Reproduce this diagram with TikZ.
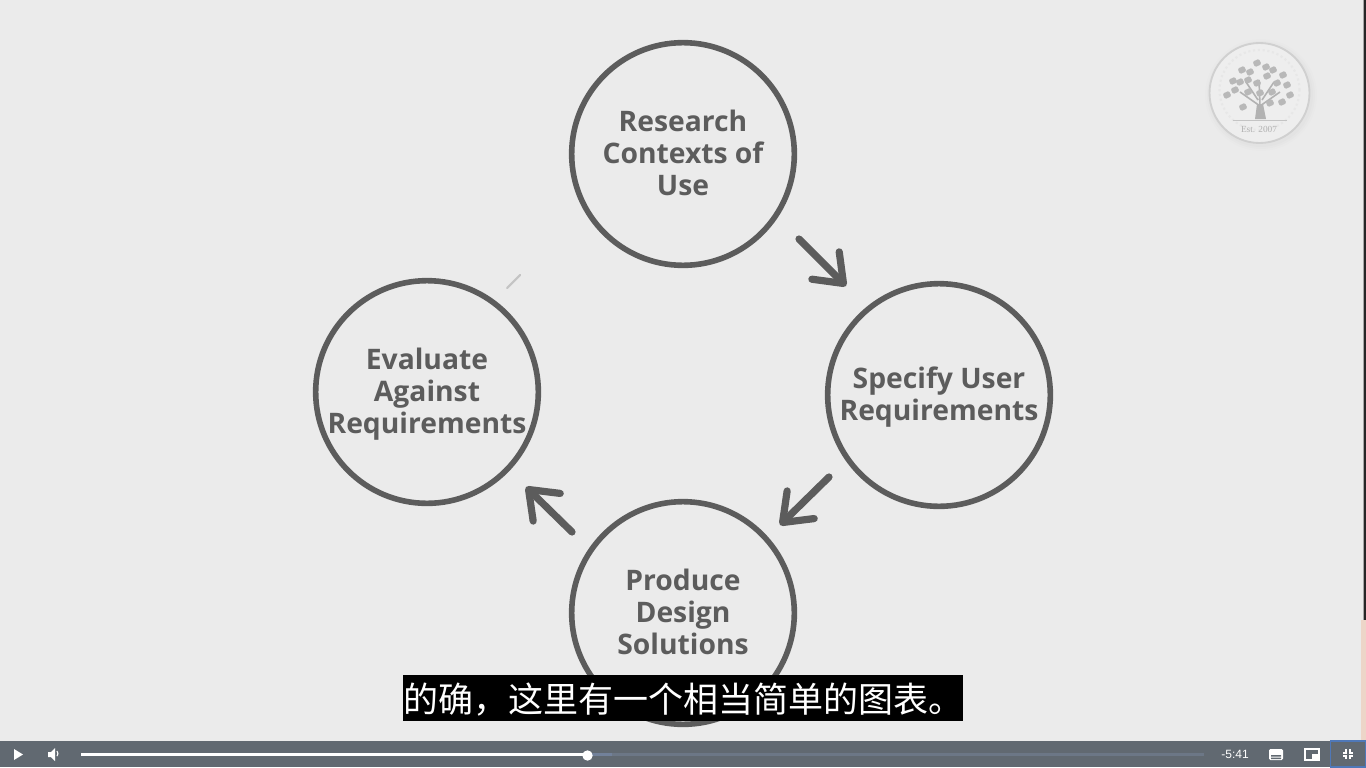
\documentclass[tikz,border=0pt]{standalone}
\usepackage{fontspec}
\usetikzlibrary{arrows.meta}
\setmainfont{Open Sans}
\newfontfamily\cjkfont{Noto Sans CJK SC}
\newfontfamily\uifont{Liberation Sans}
\newfontfamily\logofont{Liberation Serif}
\definecolor{paper}{HTML}{EBEBEB}
\definecolor{ink}{HTML}{5C5C5C}
\definecolor{barc}{HTML}{616971}
\definecolor{logoc}{HTML}{C4C4C4}
\definecolor{railc}{HTML}{6C7786}
\definecolor{bufc}{HTML}{72819A}
\definecolor{focusc}{HTML}{4F78B8}
\definecolor{peach}{HTML}{EDD5C8}
\tikzset{
  x=0.75pt,y=-0.75pt,
  stage/.style={circle,draw=ink,line width=4.2pt,minimum size=167pt,inner sep=0pt,align=center,text=ink,text depth=2.5pt,font=\fontsize{21.2}{24}\selectfont\bfseries},
  flow/.style={draw=ink,line width=5.4pt,line cap=round,line join=round,-{Straight Barb[round,length=19pt,width=29pt,line width=5.4pt]}},
}
\begin{document}
\begin{tikzpicture}
\useasboundingbox (0,0) rectangle (1366,767);
\fill[paper] (0,0) rectangle (1366,767);
\fill[gray!70] (1362.5,0) rectangle (1366,620);
\fill[black!85] (1364,0) rectangle (1366,620);
\fill[peach] (1361,620) rectangle (1366,741);
\node[stage] (research) at (683,154) {Research\\Contexts of\\Use};
\node[stage] (specify) at (939,395) {Specify User\\Requirements};
\node[stage] (produce) at (683,613) {Produce\\Design\\Solutions};
\node[stage] (evaluate) at (427,392) {Evaluate\\Against\\Requirements};
\coordinate (a1s) at (799,239);\coordinate (a1t) at (846,286);
\coordinate (a2s) at (829,477);\coordinate (a2t) at (780,525);
\coordinate (a3s) at (572,532);\coordinate (a3t) at (526,487);
\draw[flow] (a1s) -- (a1t);
\draw[flow] (a2s) -- (a2t);
\draw[flow] (a3s) -- (a3t);
\coordinate (m1) at (507,288);\coordinate (m2) at (520,275);
\draw[logoc,line width=1.6pt,line cap=round] (m1) -- (m2);
% logo
\foreach \r/\o in {56/.008,54/.01,52/.012}
  \fill[black,opacity=\o] (1261,95) circle (\r);
\node[circle,fill=paper!85!white,draw=logoc!80,line width=1.4pt,minimum size=75pt,inner sep=0pt] (logo) at (1259.5,93) {};
\node[circle,draw=logoc!40,line width=1.6pt,dotted,minimum size=60pt,inner sep=0pt] (logoin) at (1259.5,90) {};
\node[text=logoc!130,font=\logofont\fontsize{7}{8}\selectfont] (est) at (1259,129) {Est. 2007};
\fill[logoc!130] (1255,119) -- (1257,104) -- (1263,104) -- (1266,119) -- cycle;
\draw[logoc,line width=0.7pt] (1233,120) -- (1287,120);
\draw[logoc!130,line width=1.2pt] (1260,106) -- (1240,92) (1260,106) -- (1280,92) (1260,106) -- (1259,80) (1258,100) -- (1246,82) (1262,100) -- (1274,82);
\foreach \px/\py in {1257/63,1242/70,1250/72,1266/67,1273/70,1283/75,1233/81,1240/82,1248/80,1257/83,1267/76,1277/83,1287/85,1227/95,1235/90,1248/92,1260/93,1272/92,1290/95,1243/107,1282/102,1270/103}
  \fill[logoc!120,rotate around={25:(\px,\py)},rounded corners=1pt] (\px-3.5,\py-3) rectangle (\px+3.5,\py+3);
% subtitle
\fill[black] (403,675) rectangle (963,721);
\node[text=white,font=\cjkfont\fontsize{26.25}{28}\selectfont,inner sep=0pt] (sub) at (683,700) {的确，这里有一个相当简单的图表。};
% control bar
\fill[barc] (0,741) rectangle (1366,767);
\fill[white] (14,749) -- (23,754.5) -- (14,760) -- cycle;
\fill[white] (48,752) -- (51,752) -- (55,748) -- (55,761) -- (51,757) -- (48,757) -- cycle;
\draw[white,line width=0.8pt] (57,751) arc (-40:40:4);
\fill[railc] (587,753) rectangle (1204,756);
\fill[bufc] (587,753) rectangle (612,756);
\fill[white] (81,753) rectangle (587,756);
\fill[white] (587.5,755.5) circle (5.2);
\node[text=white,font=\uifont\fontsize{9}{10}\selectfont] (time) at (1235,754) {-5:41};
\fill[white,rounded corners=1pt] (1269,749) rectangle (1283,760);
\fill[barc] (1271,755) rectangle (1281,756.5) (1271,757.5) rectangle (1281,759);
\draw[white,line width=0.9pt] (1305,749) rectangle (1319,760);
\fill[white] (1312,754) rectangle (1318,759);
\draw[focusc,line width=0.9pt] (1330.5,741) rectangle (1366,767);
\draw[white,line width=1.5pt] (1346,749) -- (1346,752.5) -- (1343,752.5) (1350,749) -- (1350,752.5) -- (1353,752.5) (1346,759) -- (1346,755.5) -- (1343,755.5) (1350,759) -- (1350,755.5) -- (1353,755.5);
\end{tikzpicture}
\end{document}
